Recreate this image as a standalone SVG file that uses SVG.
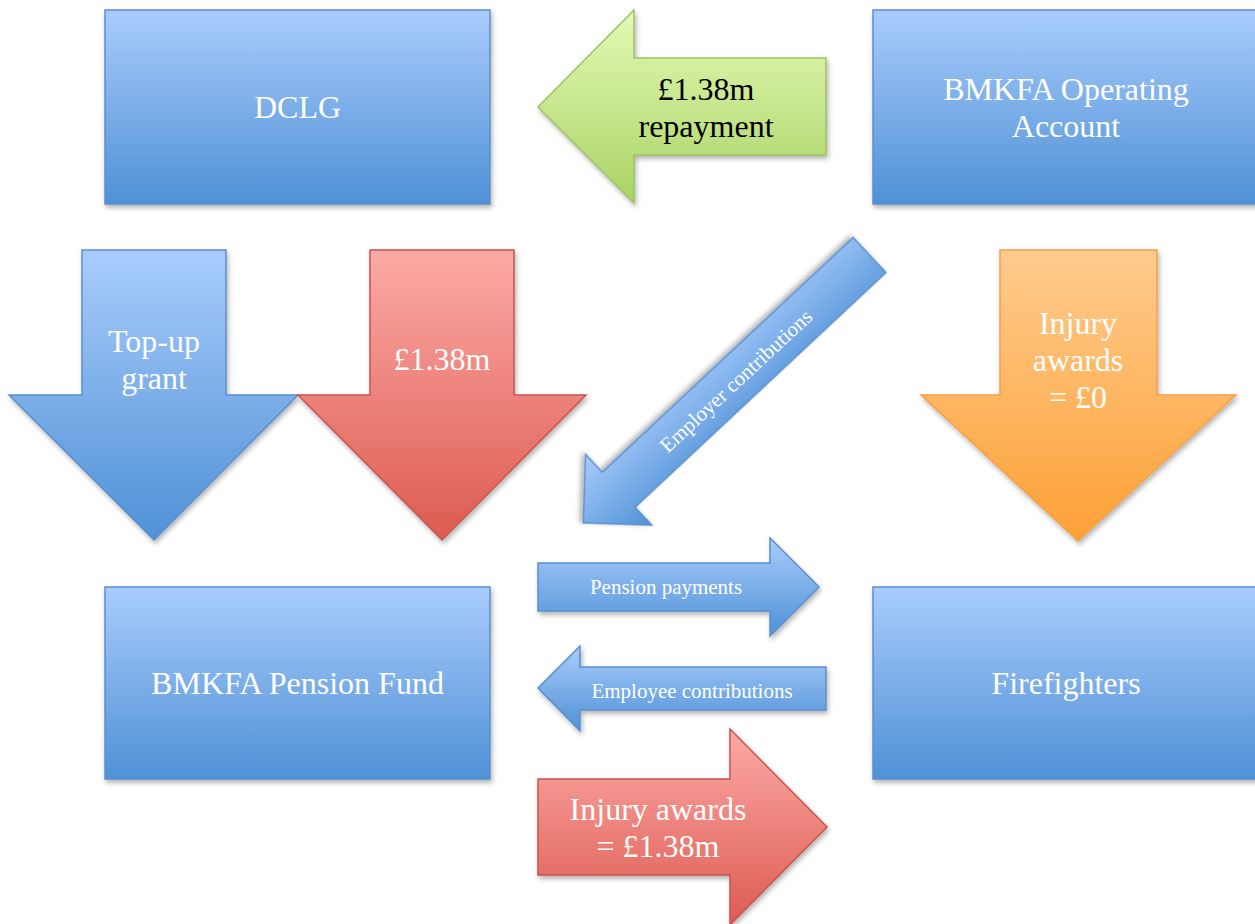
<svg xmlns="http://www.w3.org/2000/svg" width="1255" height="924" viewBox="0 0 1255 924">
  <defs>
    <linearGradient id="gBlue" x1="0" y1="0" x2="0" y2="1">
      <stop offset="0" stop-color="#a9ccfc"/>
      <stop offset="1" stop-color="#4f91d6"/>
    </linearGradient>
    <linearGradient id="gBlueDiag" x1="0" y1="1" x2="0" y2="0">
      <stop offset="0" stop-color="#a9ccfc"/>
      <stop offset="1" stop-color="#4f91d6"/>
    </linearGradient>
    <linearGradient id="gRed" x1="0" y1="0" x2="0" y2="1">
      <stop offset="0" stop-color="#fdaaa6"/>
      <stop offset="1" stop-color="#dc5b51"/>
    </linearGradient>
    <linearGradient id="gGreen" x1="0" y1="0" x2="0" y2="1">
      <stop offset="0" stop-color="#e5f9b6"/>
      <stop offset="1" stop-color="#a9d365"/>
    </linearGradient>
    <linearGradient id="gOrange" x1="0" y1="0" x2="0" y2="1">
      <stop offset="0" stop-color="#ffcb8e"/>
      <stop offset="1" stop-color="#fda136"/>
    </linearGradient>
    <filter id="shadow" x="-10%" y="-10%" width="130%" height="130%">
      <feDropShadow dx="1.5" dy="3" stdDeviation="2.5" flood-color="#000" flood-opacity="0.3"/>
    </filter>
  </defs>
  <style>
    .blue { fill: url(#gBlue); stroke: #5b8ecf; stroke-width: 1.5; filter: url(#shadow); }
    .blued { fill: url(#gBlueDiag); stroke: #5b8ecf; stroke-width: 1.5; filter: url(#shadow); }
    .red { fill: url(#gRed); stroke: #c9534e; stroke-width: 1.5; filter: url(#shadow); }
    .green { fill: url(#gGreen); stroke: #9cc35e; stroke-width: 1.5; filter: url(#shadow); }
    .orange { fill: url(#gOrange); stroke: #f5a04a; stroke-width: 1.5; filter: url(#shadow); }
    text { font-family: "Liberation Serif", "Times New Roman", serif; text-anchor: middle; }
    .big { font-size: 32px; fill: #ffffff; }
    .bigk { font-size: 32px; fill: #000000; }
    .small { font-size: 21px; fill: #ffffff; }
  </style>

  <rect width="1255" height="924" fill="#ffffff"/>

  <g id="node-dclg">
    <rect class="blue" x="105" y="10" width="385" height="194"/>
    <text class="big" x="297.5" y="118">DCLG</text>
  </g>
  <g id="node-operating">
    <rect class="blue" x="873" y="10" width="390" height="194"/>
    <text class="big" x="1066" y="100">BMKFA Operating</text>
    <text class="big" x="1066" y="137">Account</text>
  </g>
  <g id="node-pension-fund">
    <rect class="blue" x="105" y="587" width="385" height="192"/>
    <text class="big" x="297.5" y="694">BMKFA Pension Fund</text>
  </g>
  <g id="node-firefighters">
    <rect class="blue" x="873" y="587" width="390" height="192"/>
    <text class="big" x="1066" y="694">Firefighters</text>
  </g>

  <g id="connectors">
    <g id="arrow-repayment">
      <polygon class="green" points="538,107 634,10 634,58 826,58 826,155 634,155 634,203"/>
      <text class="bigk" x="706" y="100">£1.38m</text>
      <text class="bigk" x="706" y="137">repayment</text>
    </g>
    <g id="arrow-topup">
      <polygon class="blue" points="82,250 226,250 226,395 298,395 154,540 9,395 82,395"/>
      <text class="big" x="154" y="352">Top-up</text>
      <text class="big" x="154" y="389">grant</text>
    </g>
    <g id="arrow-dclg-fund">
      <polygon class="red" points="370,250 514,250 514,395 586,395 442,540 298,395 370,395"/>
      <text class="big" x="442" y="370">£1.38m</text>
    </g>
    <g id="arrow-injury-zero">
      <polygon class="orange" points="1000,250 1157,250 1157,395 1236,395 1078,541 921,395 1000,395"/>
      <text class="big" x="1078" y="334">Injury</text>
      <text class="big" x="1078" y="371">awards</text>
      <text class="big" x="1078" y="408">= £0</text>
    </g>
    <g id="arrow-employer">
      <polygon class="blued" transform="translate(869.5,255) rotate(136.9)" points="0,-24 343.5,-24 343.5,-48.5 392,0 343.5,48.5 343.5,24 0,24"/>
      <text class="small" transform="translate(736,381) rotate(-42.8)" y="7">Employer contributions</text>
    </g>
    <g id="arrow-pension-payments">
      <polygon class="blue" points="538,563 770,563 770,538 819,587 770,636 770,611 538,611"/>
      <text class="small" x="666" y="594">Pension payments</text>
    </g>
    <g id="arrow-employee">
      <polygon class="blue" points="826,667 826,710 580,710 580,731 538,688 580,646 580,667"/>
      <text class="small" x="692" y="698">Employee contributions</text>
    </g>
    <g id="arrow-injury-awards">
      <polygon class="red" points="538,779 730,779 730,729 827,827 730,925 730,875 538,875"/>
      <text class="big" x="658" y="820">Injury awards</text>
      <text class="big" x="658" y="857">= £1.38m</text>
    </g>
  </g>
</svg>
